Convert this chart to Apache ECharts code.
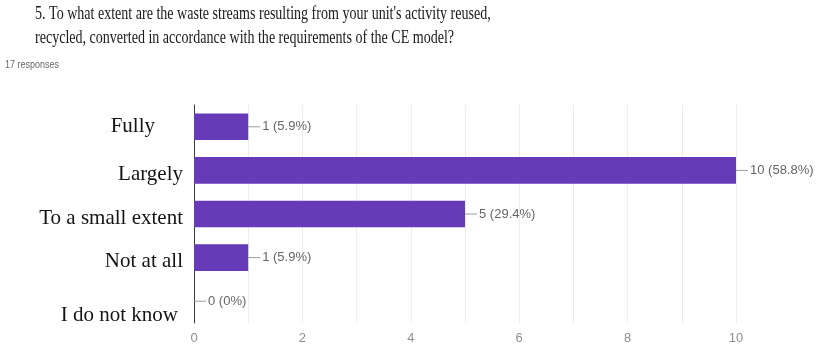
<!DOCTYPE html>
<html>
<head>
<meta charset="utf-8">
<script src="https://cdn.jsdelivr.net/npm/echarts@6/dist/echarts.min.js"></script>
<style>
  html, body { margin: 0; padding: 0; background: #fff; }
  #chart { width: 818px; height: 346px; }
</style>
</head>
<body>
<div id="chart"></div>
<script>
// Survey question and answers
const titleLines = [
  "5. To what extent are the waste streams resulting from your unit's activity reused,",
  "recycled, converted in accordance with the requirements of the CE model?"
];
const responseNote = '17 responses';
const categories = ['Fully', 'Largely', 'To a small extent', 'Not at all', 'I do not know'];
const counts = [1, 10, 5, 1, 0];
const percents = ['5.9%', '58.8%', '29.4%', '5.9%', '0%'];
const tickValues = [0, 2, 4, 6, 8, 10];

const chart = echarts.init(document.getElementById('chart'), null, { renderer: 'canvas' });

// Answer label styles (index -> rich style key); they sit slightly off their rows
const labelStyleKey = ['a', 'b', 'b', 'b', 'c'];
const serif = '"Liberation Serif", "Times New Roman", serif';
const sans = '"Liberation Sans", Arial, sans-serif';

const option = {
  animation: false,
  backgroundColor: '#ffffff',
  graphic: [
    {
      type: 'text', x: 35, y: 14, scaleX: 0.78,
      style: { text: titleLines[0], x: 0, y: 0, fill: '#1a1a1a',
        font: '18px ' + serif, align: 'left', verticalAlign: 'middle' }
    },
    {
      type: 'text', x: 35, y: 38, scaleX: 0.78,
      style: { text: titleLines[1], x: 0, y: 0, fill: '#1a1a1a',
        font: '18px ' + serif, align: 'left', verticalAlign: 'middle' }
    },
    {
      type: 'text', x: 5, y: 65, scaleX: 0.9,
      style: { text: responseNote, x: 0, y: 0, fill: '#666',
        font: '10px ' + sans, align: 'left', verticalAlign: 'middle' }
    }
  ],
  grid: { left: 194, right: 82, top: 105, bottom: 23, containLabel: false },
  xAxis: {
    type: 'value',
    min: 0, max: 10, interval: 2,
    axisLine: { show: false },
    axisTick: { show: false },
    minorTick: { show: false, splitNumber: 2 },
    splitLine: { show: true, lineStyle: { color: '#ececec', width: 1 } },
    minorSplitLine: { show: true, lineStyle: { color: '#ececec', width: 1 } },
    axisLabel: {
      color: '#8f8f8f', fontSize: 13, fontFamily: sans, margin: 9,
      formatter: v => (tickValues.includes(v) ? String(v) : '')
    }
  },
  yAxis: {
    type: 'category',
    inverse: true,
    data: categories,
    axisLine: { show: true, lineStyle: { color: '#3a3a3a', width: 1 } },
    axisTick: { show: false },
    splitLine: { show: false },
    axisLabel: {
      margin: 11,
      formatter: (v, i) => '{' + labelStyleKey[i] + '|' + v + '}',
      rich: {
        a: { color: '#141414', fontSize: 21, fontFamily: serif, padding: [0, 28, 0, 0] },
        b: { color: '#141414', fontSize: 21, fontFamily: serif, padding: [8, 0, 0, 0] },
        c: { color: '#141414', fontSize: 21, fontFamily: serif, padding: [28, 5, 0, 0] }
      }
    }
  },
  series: [{
    type: 'bar',
    data: counts,
    barCategoryGap: '39%',
    itemStyle: { color: '#673ab7' },
    label: {
      show: true,
      position: 'right',
      distance: 0,
      formatter: p => '{l|}{t|' + p.value + ' (' + percents[p.dataIndex] + ')}',
      rich: {
        l: { width: 12, height: 1, backgroundColor: '#9a9a9a', verticalAlign: 'middle' },
        t: { color: '#666666', fontSize: 13, fontFamily: sans,
             padding: [0, 0, 0, 2], verticalAlign: 'middle' }
      }
    }
  }]
};

chart.setOption(option);
</script>
</body>
</html>
